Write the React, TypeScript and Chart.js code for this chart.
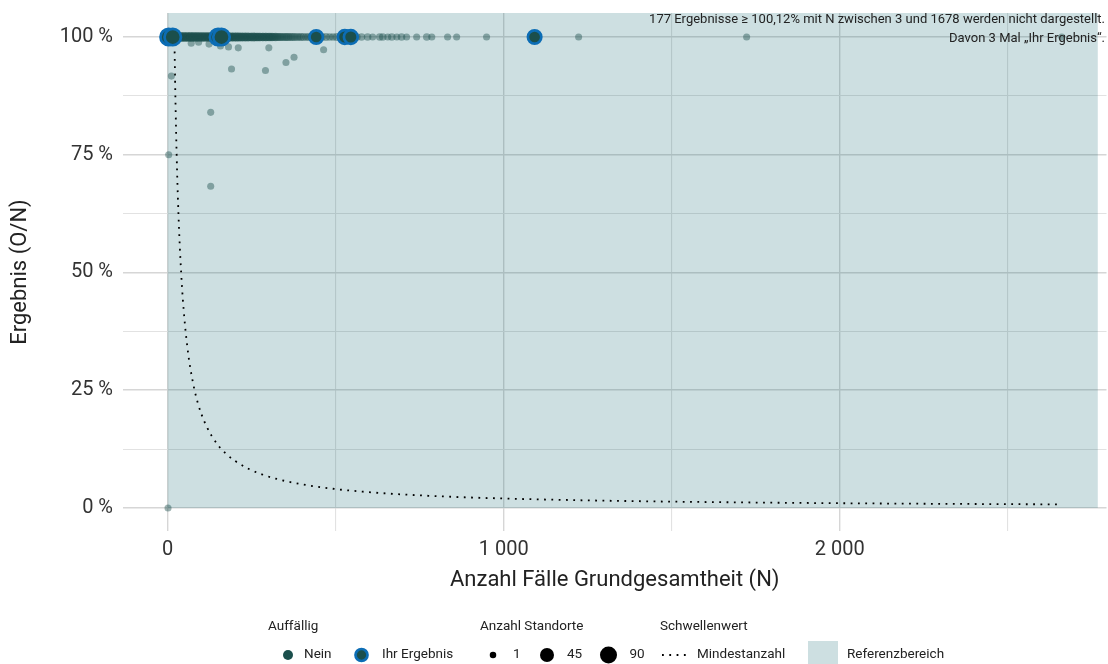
import React, { useEffect, useRef } from 'react';
import { Chart, registerables } from 'chart.js';
Chart.register(...registerables);

const FONT = 'Roboto, "Noto Sans", sans-serif';

// Axis ranges and ticks
const xMin = -133;
const xMax = 2794;
const yMin = -4.9;
const yMax = 105.1;
const xTicks = [0, 500, 1000, 1500, 2000, 2500];
const xMajor = [0, 1000, 2000];
const xTickLabels = ['0', '1 000', '2 000'];
const yTicks = [0, 12.5, 25, 37.5, 50, 62.5, 75, 87.5, 100];
const yMajor = [0, 25, 50, 75, 100];
const yTickLabels = ['0 %', '25 %', '50 %', '75 %', '100 %'];

// Reference area (Referenzbereich)
const refXFrom = 0;
const refXTo = 2768;
const refYFrom = 0;

// Results at exactly 100 %: N and number of sites
const rowN = [
  0, 3, 5, 8, 12, 14, 17, 21, 23, 26,
  30, 32, 35, 39, 41, 44, 48, 50, 53, 57,
  59, 62, 66, 68, 71, 75, 77, 80, 84, 86,
  89, 93, 95, 98, 102, 104, 107, 111, 113, 116,
  120, 122, 125, 129, 131, 134, 138, 140, 143, 147,
  149, 152, 156, 158, 161, 165, 167, 170, 174, 176,
  179, 183, 185, 188, 192, 194, 197, 201, 203, 206,
  210, 212, 215, 219, 221, 224, 228, 230, 233, 237,
  239, 242, 246, 248, 251, 255, 257, 260, 264, 266,
  269, 273, 275, 278, 282, 284, 287, 291, 293, 296,
  300, 302, 305, 309, 311, 314, 318, 321, 325, 329,
  333, 337, 342, 347, 352, 356, 361, 367, 372, 378,
  385, 391, 397, 404, 412, 419, 426, 434, 443, 451,
  460, 471, 482, 492, 503, 515, 530, 551, 563, 577,
  595, 610, 631, 640, 655, 667, 682, 696, 711, 741,
  771, 786, 833, 860, 949, 1223, 1723, 2661,
];
const rowCount = [
  14, 12, 10, 11, 9, 12, 10, 11, 8, 10,
  12, 9, 11, 10, 8, 10, 9, 11, 8, 10,
  9, 8, 10, 9, 11, 8, 9, 10, 8, 9,
  10, 8, 9, 7, 10, 8, 9, 8, 7, 9,
  8, 10, 7, 8, 9, 7, 8, 9, 7, 8,
  7, 9, 8, 7, 8, 6, 8, 7, 8, 6,
  7, 8, 6, 7, 8, 6, 7, 6, 8, 7,
  6, 7, 6, 7, 5, 6, 7, 6, 5, 7,
  6, 5, 6, 5, 6, 7, 5, 6, 5, 6,
  5, 6, 5, 4, 6, 5, 4, 5, 6, 4,
  5, 4, 5, 4, 5, 4, 4, 5, 4, 3,
  4, 4, 3, 4, 3, 4, 3, 3, 4, 3,
  3, 2, 3, 3, 2, 3, 2, 2, 3, 2,
  2, 3, 2, 2, 3, 2, 2, 3, 2, 2,
  2, 1, 2, 2, 1, 2, 1, 2, 1, 1,
  2, 1, 1, 1, 1, 1, 1, 1,
];

// Results below 100 % (one site each)
const lowN = [3, 11, 1, 70, 92, 123, 157, 181, 210, 190, 301, 291, 352, 376, 464, 128, 128];
const lowY = [75, 91.7, 0, 98.7, 98.9, 98.5, 98.1, 97.9, 97.7, 93.2, 97.7, 92.9, 94.6, 95.7, 97.3, 84.0, 68.3];

// "Ihr Ergebnis"
const ownN = [3, 15, 150, 160, 442, 527, 545, 1092];
const ownY = [100, 100, 100, 100, 100, 100, 100, 100];
const ownCount = [90, 90, 90, 90, 45, 50, 50, 45];

// Mindestanzahl threshold curve
const thrN = [20, 22, 25, 28, 32, 36, 40, 45, 50, 56, 63, 71, 80, 90, 100, 115, 130, 150, 175, 200, 240, 280, 330, 400, 480, 580, 700, 850, 1000, 1200, 1450, 1700, 2000, 2300, 2661];
const thrY = [100, 90.9, 80, 71.4, 62.5, 55.6, 50, 44.4, 40, 35.7, 31.7, 28.2, 25, 22.2, 20, 17.4, 15.4, 13.3, 11.4, 10, 8.33, 7.14, 6.06, 5, 4.17, 3.45, 2.86, 2.35, 2, 1.67, 1.38, 1.18, 1, 0.87, 0.75];

const noteLines = [
  '177 Ergebnisse ≥ 100,12% mit N zwischen 3 und 1678 werden nicht dargestellt.',
  'Davon 3 Mal „Ihr Ergebnis“.',
];

const DARK = '#1b4f4c';
const DARK_A = 'rgba(27,79,76,0.43)';
const BLUE = '#0c6db5';
const TEAL_OVERLAY = 'rgba(5,95,105,0.2)';
const TEAL = '#cddfe1';

const radius = (n: number) => 3 + 0.55 * Math.sqrt(n || 1);

const refPlugin = {
  id: 'refArea',
  beforeDatasetsDraw(chart: any) {
    const { ctx, chartArea, scales } = chart;
    const x0 = scales.x.getPixelForValue(refXFrom);
    const x1 = scales.x.getPixelForValue(refXTo);
    const y0 = scales.y.getPixelForValue(refYFrom);
    ctx.save();
    ctx.fillStyle = TEAL_OVERLAY;
    ctx.fillRect(x0, chartArea.top, x1 - x0, y0 - chartArea.top);
    ctx.restore();
  },
};

const notePlugin = {
  id: 'note',
  afterDatasetsDraw(chart: any) {
    const { ctx } = chart;
    ctx.save();
    ctx.font = `13px ${FONT}`;
    ctx.fillStyle = '#222';
    ctx.textAlign = 'right';
    ctx.textBaseline = 'middle';
    ctx.fillText(noteLines[0], 1105, 19.5);
    ctx.fillText(noteLines[1], 1105, 38.5);
    ctx.restore();
  },
};

const legendPlugin = {
  id: 'customLegend',
  afterDraw(chart: any) {
    const { ctx } = chart;
    const ty = 627;
    const iy = 655;
    ctx.save();
    ctx.font = `13.5px ${FONT}`;
    ctx.fillStyle = '#222';
    ctx.textBaseline = 'middle';
    ctx.textAlign = 'left';
    ctx.fillText('Auffällig', 268, ty);
    ctx.fillText('Anzahl Standorte', 480, ty);
    ctx.fillText('Schwellenwert', 660, ty);

    const dot = (x: number, r: number, fill: string, stroke?: string) => {
      ctx.beginPath();
      ctx.arc(x, iy, r, 0, Math.PI * 2);
      ctx.fillStyle = fill;
      ctx.fill();
      if (stroke) {
        ctx.lineWidth = 2.7;
        ctx.strokeStyle = stroke;
        ctx.stroke();
      }
    };
    dot(288, 5, DARK);
    dot(361.5, 6, DARK, BLUE);
    dot(493, radius(1) - 0.3, '#000');
    dot(547, radius(45) + 0.3, '#000');
    dot(608.5, radius(90) + 0.3, '#000');

    ctx.fillStyle = '#222';
    ctx.fillText('Nein', 304, iy);
    ctx.fillText('Ihr Ergebnis', 382, iy);
    ctx.fillText('1', 513, iy);
    ctx.fillText('45', 567, iy);
    ctx.fillText('90', 629.5, iy);
    ctx.fillText('Mindestanzahl', 697, iy);
    ctx.fillText('Referenzbereich', 847, iy);

    ctx.beginPath();
    ctx.setLineDash([1.8, 5.5]);
    ctx.lineWidth = 1.8;
    ctx.strokeStyle = '#000';
    ctx.moveTo(662, iy);
    ctx.lineTo(690, iy);
    ctx.stroke();
    ctx.setLineDash([]);

    ctx.fillStyle = TEAL;
    ctx.fillRect(808, 641, 30, 30);
    ctx.restore();
  },
};

export default function App() {
  const ref = useRef<HTMLCanvasElement | null>(null);
  useEffect(() => {
    if (!ref.current) return;
    const neinData = [
      ...rowN.map((n, i) => ({ x: n, y: 100, c: rowCount[i] ?? 1 })),
      ...lowN.map((n, i) => ({ x: n, y: lowY[i], c: 1 })),
    ];
    const ownData = ownN.map((n, i) => ({ x: n, y: ownY[i], c: ownCount[i] }));
    const chart = new Chart(ref.current, {
      type: 'scatter',
      data: {
        datasets: [
          {
            label: 'Ihr Ergebnis',
            data: ownData,
            backgroundColor: DARK,
            borderColor: BLUE,
            borderWidth: 2.7,
            pointRadius: (c: any) => radius(c.raw?.c),
          } as any,
          {
            label: 'Nein',
            data: neinData,
            backgroundColor: DARK_A,
            borderWidth: 0,
            pointRadius: (c: any) => radius(c.raw?.c),
          } as any,
          {
            label: 'Mindestanzahl',
            data: thrN.map((n, i) => ({ x: n, y: thrY[i] })),
            showLine: true,
            borderColor: '#000',
            borderWidth: 1.8,
            borderDash: [1.8, 5.5],
            pointRadius: 0,
            cubicInterpolationMode: 'monotone',
          } as any,
        ],
      },
      options: {
        animation: false,
        responsive: false,
        devicePixelRatio: 1,
        layout: { autoPadding: false, padding: { top: 13, right: 1.5, left: 0, bottom: 0 } },
        plugins: { legend: { display: false }, tooltip: { enabled: false } },
        scales: {
          x: {
            type: 'linear',
            min: xMin,
            max: xMax,
            afterBuildTicks: (s: any) => {
              s.ticks = xTicks.map((v) => ({ value: v }));
            },
            afterFit: (s: any) => {
              s.height = 133;
              s.paddingLeft = 0;
              s.paddingRight = 0;
            },
            border: { display: false },
            grid: {
              drawTicks: false,
              color: (c: any) => (xMajor.includes(c.tick?.value) ? '#d6d6d6' : '#e2e2e2'),
              lineWidth: (c: any) => (xMajor.includes(c.tick?.value) ? 1.4 : 1.1),
            },
            ticks: {
              autoSkip: false,
              maxRotation: 0,
              padding: 7,
              color: '#333',
              font: { family: FONT, size: 20 },
              callback: (v: any) => {
                const i = xMajor.indexOf(Number(v));
                return i >= 0 ? xTickLabels[i] : '';
              },
            },
            title: {
              display: true,
              text: 'Anzahl Fälle Grundgesamtheit (N)',
              color: '#222',
              font: { family: FONT, size: 22 },
              padding: { top: 0, bottom: 70 },
            },
          },
          y: {
            type: 'linear',
            min: yMin,
            max: yMax,
            afterBuildTicks: (s: any) => {
              s.ticks = yTicks.map((v) => ({ value: v }));
            },
            afterFit: (s: any) => {
              s.width = 123;
              s.paddingTop = 0;
              s.paddingBottom = 0;
            },
            border: { display: false },
            grid: {
              drawTicks: false,
              color: (c: any) => (yMajor.includes(c.tick?.value) ? '#d6d6d6' : '#e2e2e2'),
              lineWidth: (c: any) => (yMajor.includes(c.tick?.value) ? 1.4 : 1.1),
            },
            ticks: {
              autoSkip: false,
              padding: 10,
              color: '#333',
              font: { family: FONT, size: 20 },
              callback: (v: any) => {
                const i = yMajor.indexOf(Number(v));
                return i >= 0 ? yTickLabels[i] : '';
              },
            },
            title: {
              display: true,
              text: 'Ergebnis (O/N)',
              color: '#222',
              font: { family: FONT, size: 22 },
              padding: { top: 7, bottom: 0 },
            },
          },
        },
      },
      plugins: [refPlugin, notePlugin, legendPlugin],
    });
    return () => chart.destroy();
  }, []);

  return (
    <div style={{ position: 'absolute', left: 0, top: 0, width: 1108, height: 664, background: '#fff' }}>
      <canvas ref={ref} width={1108} height={664} style={{ display: 'block' }} />
    </div>
  );
}
